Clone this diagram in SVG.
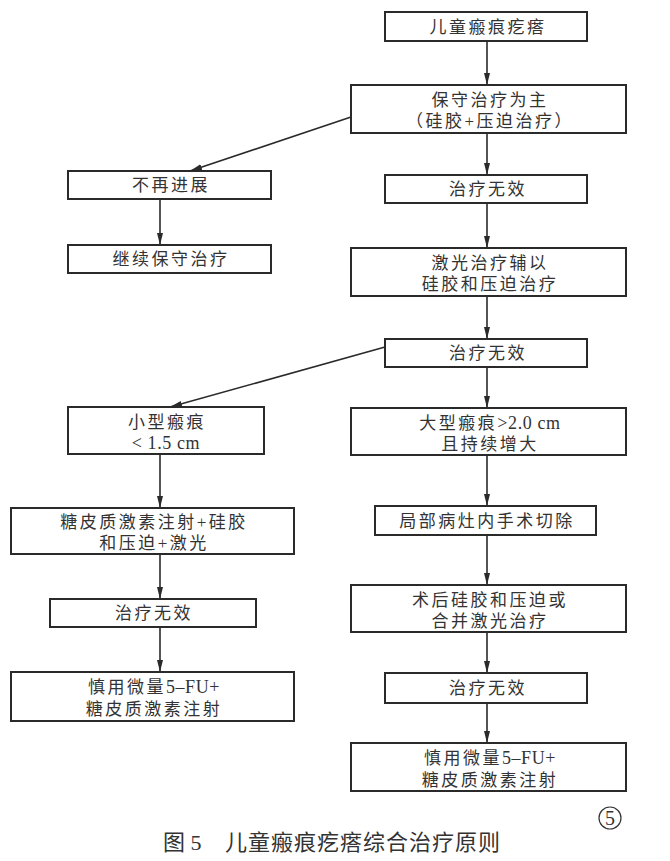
<svg xmlns="http://www.w3.org/2000/svg" width="670" height="861" viewBox="0 0 670 861">
<defs>
<marker id="ah" viewBox="0 0 12 8" refX="12" refY="4" markerWidth="12" markerHeight="8" markerUnits="userSpaceOnUse" orient="auto">
<path d="M0,1 L12,4 L0,7 Z" fill="#2a2a2a"/>
</marker>
<style>
.box{fill:#fff;stroke:#2a2a2a;stroke-width:2}
.t{font-family:"Liberation Serif","Noto Sans CJK SC",serif;font-size:17px;fill:#333;text-anchor:middle;letter-spacing:2.5px}
.l{font-size:18px;letter-spacing:0.6px}
.c{stroke:#2a2a2a;stroke-width:1.6;fill:none;marker-end:url(#ah)}
.cap{font-family:"Liberation Serif","Noto Sans CJK SC",serif;font-size:22px;fill:#333}
</style>
</defs>
<rect width="670" height="861" fill="#fff"/>
<g id="connectors">
<line class="c" x1="487" y1="41" x2="487" y2="85"/>
<line class="c" x1="487" y1="133" x2="487" y2="175"/>
<line class="c" x1="351" y1="117" x2="190" y2="171"/>
<line class="c" x1="160" y1="199" x2="160" y2="245"/>
<line class="c" x1="487" y1="203" x2="487" y2="248"/>
<line class="c" x1="487" y1="296" x2="487" y2="339"/>
<line class="c" x1="385" y1="347" x2="170" y2="407"/>
<line class="c" x1="487" y1="367" x2="487" y2="408"/>
<line class="c" x1="160" y1="454" x2="160" y2="508"/>
<line class="c" x1="487" y1="455" x2="487" y2="506"/>
<line class="c" x1="160" y1="554" x2="160" y2="599"/>
<line class="c" x1="487" y1="535" x2="487" y2="585"/>
<line class="c" x1="160" y1="627" x2="160" y2="672"/>
<line class="c" x1="487" y1="632" x2="487" y2="673"/>
<line class="c" x1="487" y1="703" x2="487" y2="743"/>
</g>
<g id="n1"><rect class="box" x="385" y="12" width="202" height="29"/><text class="t" x="488" y="33">儿童瘢痕疙瘩</text></g>
<g id="n2"><rect class="box" x="351" y="85" width="275" height="48"/><text class="t" x="490" y="106">保守治疗为主</text><text class="t" x="490" y="127">（硅胶+压迫治疗）</text></g>
<g id="n3"><rect class="box" x="385" y="175" width="202" height="28"/><text class="t" x="488" y="195">治疗无效</text></g>
<g id="n4"><rect class="box" x="68" y="171" width="203" height="28"/><text class="t" x="171" y="191">不再进展</text></g>
<g id="n5"><rect class="box" x="68" y="245" width="203" height="28"/><text class="t" x="171" y="265">继续保守治疗</text></g>
<g id="n6"><rect class="box" x="351" y="248" width="275" height="48"/><text class="t" x="490" y="269">激光治疗辅以</text><text class="t" x="490" y="290">硅胶和压迫治疗</text></g>
<g id="n7"><rect class="box" x="385" y="339" width="202" height="28"/><text class="t" x="488" y="359">治疗无效</text></g>
<g id="n8"><rect class="box" x="68" y="407" width="196" height="47"/><text class="t" x="167" y="428">小型瘢痕</text><text class="t l" x="166" y="449">&lt; 1.5 cm</text></g>
<g id="n9"><rect class="box" x="351" y="408" width="275" height="47"/><text class="t" x="490" y="429">大型瘢痕<tspan class="l">&gt;2.0 cm</tspan></text><text class="t" x="490" y="450">且持续增大</text></g>
<g id="n10"><rect class="box" x="375" y="506" width="221" height="29"/><text class="t" x="487" y="527">局部病灶内手术切除</text></g>
<g id="n11"><rect class="box" x="11" y="508" width="283" height="46"/><text class="t" x="154" y="528">糖皮质激素注射+硅胶</text><text class="t" x="154" y="549">和压迫+激光</text></g>
<g id="n12"><rect class="box" x="50" y="599" width="206" height="28"/><text class="t" x="154" y="619">治疗无效</text></g>
<g id="n13"><rect class="box" x="11" y="672" width="283" height="49"/><text class="t" x="154" y="693">慎用微量<tspan class="l">5–FU+</tspan></text><text class="t" x="154" y="715">糖皮质激素注射</text></g>
<g id="n14"><rect class="box" x="351" y="585" width="275" height="47"/><text class="t" x="490" y="606">术后硅胶和压迫或</text><text class="t" x="490" y="627">合并激光治疗</text></g>
<g id="n15"><rect class="box" x="385" y="673" width="202" height="30"/><text class="t" x="488" y="694">治疗无效</text></g>
<g id="n16"><rect class="box" x="351" y="743" width="275" height="48"/><text class="t" x="490" y="764">慎用微量<tspan class="l">5–FU+</tspan></text><text class="t" x="490" y="786">糖皮质激素注射</text></g>
<g id="caption">
<text class="cap" x="163" y="850">图 5</text>
<text class="cap" x="225" y="850" letter-spacing="1">儿童瘢痕疙瘩综合治疗原则</text>
<circle cx="610" cy="818" r="11" fill="none" stroke="#333" stroke-width="1.2"/>
<text x="610" y="825" font-family="Liberation Serif,serif" font-size="20" fill="#333" text-anchor="middle">5</text>
</g>
</svg>
